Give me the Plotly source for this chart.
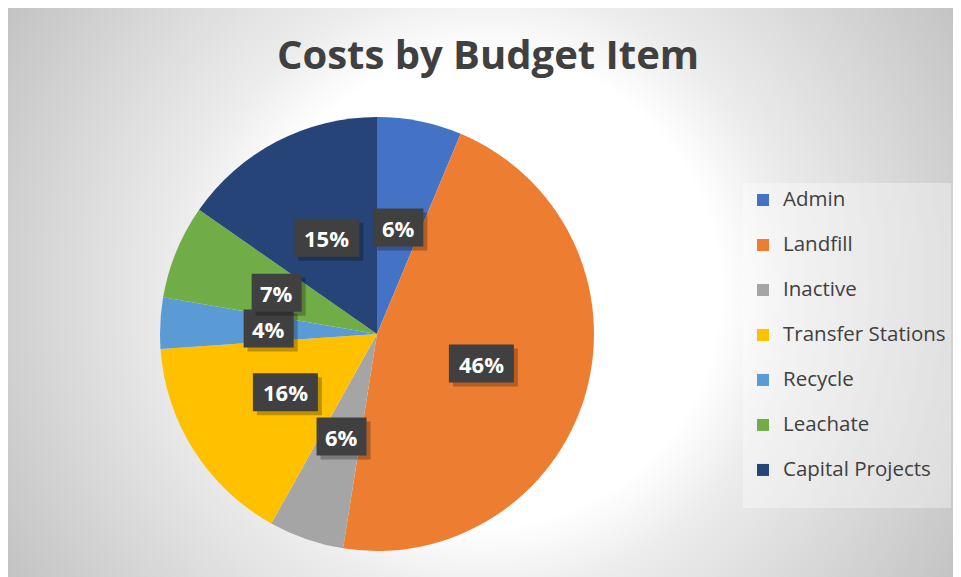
import base64
import math
import plotly.graph_objects as go

# ---- data ----
categories = ["Admin", "Landfill", "Inactive", "Transfer Stations", "Recycle", "Leachate", "Capital Projects"]
shares = [6.3, 46.2, 5.6, 15.8, 3.8, 7.0, 15.3]
colors = ["#4472C4", "#ED7D31", "#A5A5A5", "#FFC000", "#5B9BD5", "#70AD47", "#264478"]
title_text = "Costs by Budget Item"

# figure sits at an 8px page offset (body margin)
OX, OY = 8, 8
W, H = 953, 569
FONT = "Open Sans"


def px(x):  # page x -> paper
    return (x - OX) / W


def py(y):  # page y -> paper
    return 1 - (y - OY) / H


# pie geometry (page pixels)
pcx, pcy, pr = 377, 334, 217
dom_x = [px(pcx - pr), px(pcx + pr)]
dom_y = [py(pcy + pr), py(pcy - pr)]

legend_labels = [f'<span style="font-size: 20.5px;">{c}</span><br> ' for c in categories]

fig = go.Figure()
fig.add_trace(go.Pie(
    labels=legend_labels,
    values=shares,
    sort=False,
    direction="clockwise",
    rotation=0,
    marker=dict(colors=colors, line=dict(width=0)),
    textinfo="none",
    hovertext=categories,
    hoverinfo="text+percent",
    domain=dict(x=dom_x, y=dom_y),
))

# background gradient
svg = f"""<svg xmlns='http://www.w3.org/2000/svg' width='953' height='569'>
<defs><radialGradient id='g' gradientUnits='userSpaceOnUse' cx='476' cy='283' r='560'>
<stop offset='0' stop-color='#ffffff'/><stop offset='0.42' stop-color='#ffffff'/>
<stop offset='0.55' stop-color='#ececec'/><stop offset='1' stop-color='#c2c2c2'/></radialGradient></defs>
<rect width='953' height='569' fill='url(#g)'/></svg>"""
src = "data:image/svg+xml;base64," + base64.b64encode(svg.encode()).decode()
fig.add_layout_image(dict(source=src, xref="paper", yref="paper", x=0, y=1,
                          sizex=1, sizey=1, xanchor="left", yanchor="top",
                          sizing="stretch", layer="below"))

# data labels at half radius of each slice's mid-angle, in dark boxes with a shadow
total = sum(shares)
cum = 0.0
for v in shares:
    mid = (cum + v / 2) / total * 2 * math.pi
    cum += v
    lx = pcx + 0.5 * pr * math.sin(mid)
    ly = pcy - 0.5 * pr * math.cos(mid)
    label = f"{round(v / total * 100)}%"
    bw = 20 + 15 * len(label)
    bh = 38
    # shadow
    fig.add_shape(type="rect", xref="paper", yref="paper", layer="above",
                  x0=px(lx - bw / 2 + 4), x1=px(lx + bw / 2 + 4),
                  y0=py(ly + bh / 2 + 4), y1=py(ly - bh / 2 + 4),
                  fillcolor="rgba(0,0,0,0.25)", line=dict(width=0))
    # box
    fig.add_shape(type="rect", xref="paper", yref="paper", layer="above",
                  x0=px(lx - bw / 2), x1=px(lx + bw / 2),
                  y0=py(ly + bh / 2), y1=py(ly - bh / 2),
                  fillcolor="#404040", line=dict(width=0))
    fig.add_annotation(xref="paper", yref="paper", x=px(lx), y=py(ly), text=f"<b>{label}</b>",
                       showarrow=False, xanchor="center", yanchor="middle",
                       font=dict(family=FONT, size=22, color="white"))

fig.update_layout(
    width=W, height=H,
    margin=dict(l=0, r=0, t=0, b=0),
    paper_bgcolor="white",
    plot_bgcolor="rgba(0,0,0,0)",
    title=dict(text=f"<b>{title_text}</b>", x=px(488), xanchor="center",
               y=py(55), yanchor="middle",
               font=dict(family=FONT, size=40, color="#404040")),
    legend=dict(x=px(743), y=py(183), xanchor="left", yanchor="top",
                bgcolor="rgba(255,255,255,0.35)", borderwidth=0, valign="top",
                font=dict(family=FONT, size=16.15, color="#404040"),
                itemclick=False, itemdoubleclick=False),
    showlegend=True,
)

fig.write_html("out.html")
